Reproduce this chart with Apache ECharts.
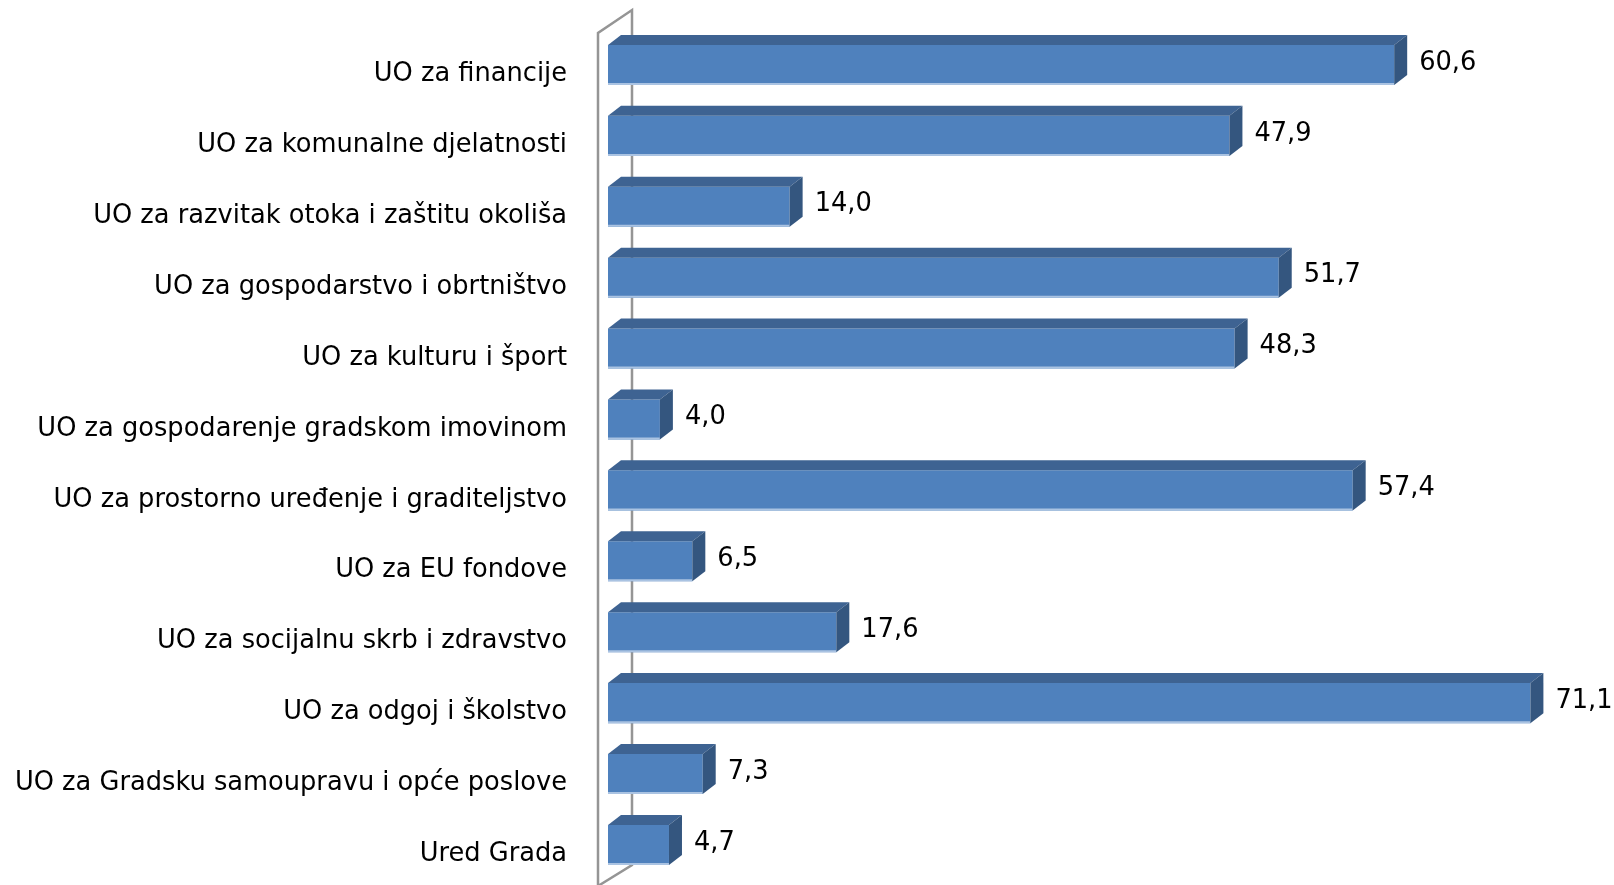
<!DOCTYPE html>
<html>
<head>
<meta charset="utf-8">
<script src="https://cdn.jsdelivr.net/npm/echarts@6/dist/echarts.min.js"></script>
<style>
  html, body { margin: 0; padding: 0; background: #fff; }
  #chart { width: 1614px; height: 885px; }
</style>
</head>
<body>
<div id="chart"></div>
<script>
// podaci
const categories = [
  'UO za financije',
  'UO za komunalne djelatnosti',
  'UO za razvitak otoka i zaštitu okoliša',
  'UO za gospodarstvo i obrtništvo',
  'UO za kulturu i šport',
  'UO za gospodarenje gradskom imovinom',
  'UO za prostorno uređenje i graditeljstvo',
  'UO za EU fondove',
  'UO za socijalnu skrb i zdravstvo',
  'UO za odgoj i školstvo',
  'UO za Gradsku samoupravu i opće poslove',
  'Ured Grada'
];
const values = [60.6, 47.9, 14.0, 51.7, 48.3, 4.0, 57.4, 6.5, 17.6, 71.1, 7.3, 4.7];

const font = 'DejaVu Sans';
const fontSize = 25.7;
const dx = 13, dy = 10; // dubina 3D

const chart = echarts.init(document.getElementById('chart'));

function renderBar(params, api) {
  const cat = api.value(0);
  const val = api.value(1);
  const p0 = api.coord([0, cat]);
  const p1 = api.coord([val, cat]);
  const h = api.size([0, 1])[1] * 0.565;
  const x0 = p0[0], x1 = p1[0], top = p0[1] - h / 2;
  const label = val.toFixed(1).replace('.', ',');
  return {
    type: 'group',
    children: [
      { type: 'rect', shape: { x: x0, y: top, width: x1 - x0, height: h }, style: { fill: '#4f81bd' } },
      { type: 'rect', shape: { x: x0, y: top + h - 2, width: x1 - x0, height: 2 }, style: { fill: '#aac3e2' } },
      { type: 'polygon', shape: { points: [[x0, top], [x0 + dx, top - dy], [x1 + dx, top - dy], [x1, top]] }, style: { fill: '#3e6392' } },
      { type: 'polygon', shape: { points: [[x1, top], [x1 + dx, top - dy], [x1 + dx, top + h - dy], [x1, top + h]] }, style: { fill: '#34567f' } },
      { type: 'text', x: x1 + dx + 12, y: p0[1] - 2, style: { text: label, font: fontSize + 'px "' + font + '"', fill: '#000', textVerticalAlign: 'middle', textAlign: 'left' } }
    ]
  };
}

const wallColor = '#959595';
const option = {
  animation: false,
  grid: { left: 608, right: 33, top: 29.5, bottom: 4.6 },
  xAxis: { type: 'value', min: 0, max: 75, show: false },
  yAxis: {
    type: 'category',
    data: categories,
    inverse: true,
    axisLine: { show: false },
    axisTick: { show: false },
    axisLabel: { margin: 41, color: '#000', fontFamily: font, fontSize: fontSize, verticalAlign: 'top', lineHeight: 19 }
  },
  graphic: [
    { type: 'polyline', z: 0, shape: { points: [[598, 886], [598, 33], [632, 10], [632, 865], [598, 886]] }, style: { stroke: wallColor, lineWidth: 2.5, fill: null } }
  ],
  series: [{
    type: 'custom',
    z: 5,
    renderItem: renderBar,
    data: values.map((v, i) => [i, v]),
    encode: { y: 0, x: 1 }
  }]
};
chart.setOption(option);
window.addEventListener('resize', () => chart.resize());
</script>
</body>
</html>
